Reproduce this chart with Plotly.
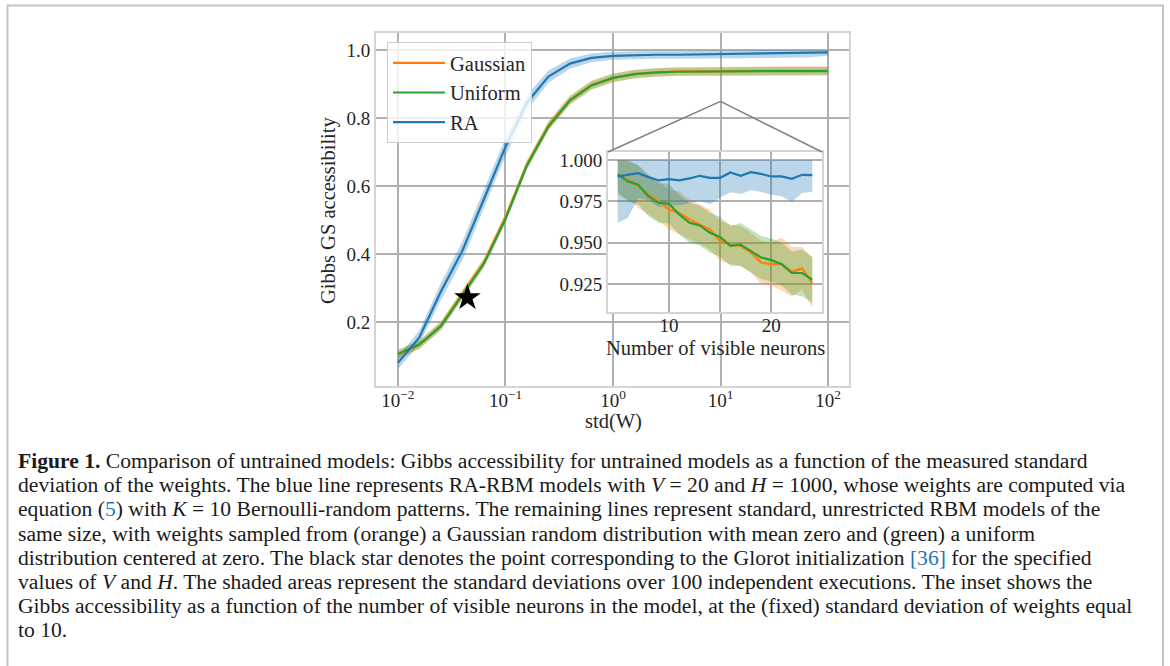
import math
import plotly.graph_objects as go

# ---------------- data ----------------
std_w = [0.01, 0.0158, 0.0251, 0.0398, 0.0631, 0.1, 0.158, 0.251, 0.398, 0.631,
         1.0, 1.58, 2.51, 3.98, 6.31, 10.0, 15.8, 25.1, 39.8, 63.1, 100.0]
ra_mean = [0.080, 0.155, 0.290, 0.410, 0.562, 0.715, 0.845, 0.922, 0.960, 0.977,
           0.983, 0.985, 0.986, 0.986, 0.987, 0.988, 0.988, 0.988, 0.989, 0.990, 0.993]
ra_std = [0.018, 0.020, 0.025, 0.028, 0.028, 0.027, 0.022, 0.018, 0.015, 0.013,
          0.012, 0.012, 0.012, 0.012, 0.012, 0.012, 0.012, 0.012, 0.012, 0.012, 0.010]
gauss_mean = [0.104, 0.133, 0.190, 0.282, 0.376, 0.508, 0.663, 0.778, 0.853, 0.897,
              0.918, 0.929, 0.934, 0.937, 0.937, 0.938, 0.938, 0.939, 0.939, 0.939, 0.939]
gauss_std = [0.014, 0.013, 0.013, 0.013, 0.013, 0.013, 0.013, 0.013, 0.013, 0.013,
             0.013, 0.013, 0.013, 0.013, 0.013, 0.013, 0.013, 0.013, 0.013, 0.013, 0.013]
unif_mean = [0.106, 0.134, 0.188, 0.280, 0.372, 0.503, 0.660, 0.775, 0.852, 0.896,
             0.918, 0.929, 0.934, 0.936, 0.937, 0.938, 0.938, 0.938, 0.938, 0.938, 0.938]
unif_std = [0.012, 0.012, 0.012, 0.012, 0.012, 0.012, 0.012, 0.012, 0.012, 0.012,
            0.012, 0.012, 0.012, 0.012, 0.012, 0.012, 0.012, 0.012, 0.012, 0.012, 0.012]

glorot_x = [0.0443]
glorot_y = [0.272]

neurons = [5, 6, 7, 8, 9, 10, 11, 12, 13, 14, 15, 16, 17, 18, 19, 20, 21, 22, 23, 24]
in_ra_mean = [0.9900, 0.9910, 0.9920, 0.9896, 0.9876, 0.9884, 0.9876, 0.9888, 0.9904, 0.9892,
              0.9892, 0.9924, 0.9904, 0.9926, 0.9916, 0.9900, 0.9900, 0.9886, 0.9910, 0.9908]
in_ra_std = [0.028, 0.026, 0.015, 0.014, 0.016, 0.016, 0.015, 0.015, 0.015, 0.016,
             0.012, 0.012, 0.011, 0.011, 0.011, 0.011, 0.012, 0.014, 0.011, 0.010]
in_gauss_mean = [0.9906, 0.9880, 0.9840, 0.9790, 0.9750, 0.9700, 0.9680, 0.9640, 0.9610, 0.9580,
                 0.9510, 0.9490, 0.9480, 0.9440, 0.9380, 0.9370, 0.9370, 0.9324, 0.9344, 0.9256]
in_gauss_std = [0.012, 0.012, 0.013, 0.012, 0.012, 0.012, 0.013, 0.012, 0.012, 0.012,
                0.012, 0.012, 0.012, 0.012, 0.013, 0.013, 0.016, 0.015, 0.013, 0.015]
in_unif_mean = [0.9914, 0.9870, 0.9850, 0.9780, 0.9740, 0.9736, 0.9670, 0.9620, 0.9604, 0.9560,
                0.9534, 0.9480, 0.9488, 0.9450, 0.9410, 0.9394, 0.9370, 0.9316, 0.9316, 0.9276]
in_unif_std = [0.011, 0.012, 0.012, 0.012, 0.012, 0.012, 0.012, 0.012, 0.012, 0.012,
               0.012, 0.012, 0.013, 0.013, 0.013, 0.013, 0.013, 0.013, 0.014, 0.014]

x_tick_vals = [0.01, 0.1, 1, 10, 100]
x_tick_text = ["10<sup>\u22122</sup>", "10<sup>\u22121</sup>", "10<sup>0</sup>",
               "10<sup>1</sup>", "10<sup>2</sup>"]
y_tick_vals = [0.2, 0.4, 0.6, 0.8, 1.0]
y_tick_text = ["0.2", "0.4", "0.6", "0.8", "1.0"]
in_x_tick_vals = [10, 20]
in_x_tick_text = ["10", "20"]
in_x_minor_vals = [15]
in_y_tick_vals = [0.925, 0.950, 0.975, 1.000]
in_y_tick_text = ["0.925", "0.950", "0.975", "1.000"]

zoom_point = (10, 0.849)

C_GAUSS = "#ff7f0e"
C_UNIF = "#2ca02c"
C_RA = "#1f77b4"
F_GAUSS = "rgba(255,127,14,0.3)"
F_UNIF = "rgba(44,160,44,0.3)"
F_RA = "rgba(31,119,180,0.3)"

W, H = 1170, 666
SERIF = "Liberation Serif, Times New Roman, serif"

# layout geometry (pixels)
main_px = dict(l=376, r=849, t=33, b=386)
inset_px = dict(l=608, r=822, t=152, b=312)


def dom_x(d):
    return [d["l"] / W, d["r"] / W]


def dom_y(d):
    return [1 - d["b"] / H, 1 - d["t"] / H]


main_xr = [-2.204, 2.195]
main_yr = [0.012, 1.05]
in_xr = [4.05, 24.95]
in_yr = [0.908, 1.0048]


def band(xs, m, s):
    up = [min(a + b, 1.0) for a, b in zip(m, s)]
    lo = [a - b for a, b in zip(m, s)]
    return list(xs) + list(xs)[::-1], up + lo[::-1]


fig = go.Figure()

# main bands
for m, s, fc in [(gauss_mean, gauss_std, F_GAUSS), (unif_mean, unif_std, F_UNIF), (ra_mean, ra_std, F_RA)]:
    bx, by = band(std_w, m, s)
    fig.add_trace(go.Scatter(x=bx, y=by, fill="toself", fillcolor=fc, line=dict(width=0),
                             mode="lines", showlegend=False, hoverinfo="skip",
                             xaxis="x", yaxis="y"))
# main lines
for m, c, name in [(gauss_mean, C_GAUSS, "Gaussian"), (unif_mean, C_UNIF, "Uniform"), (ra_mean, C_RA, "RA")]:
    fig.add_trace(go.Scatter(x=std_w, y=m, mode="lines", line=dict(color=c, width=2.2),
                             name=name, legendgroup=name, xaxis="x", yaxis="y"))

fig.add_trace(go.Scatter(x=glorot_x, y=glorot_y, mode="markers",
                         marker=dict(symbol="star", size=20, color="black"),
                         showlegend=False, xaxis="x", yaxis="y"))

# inset bands
for m, s, fc in [(in_gauss_mean, in_gauss_std, F_GAUSS), (in_unif_mean, in_unif_std, F_UNIF), (in_ra_mean, in_ra_std, F_RA)]:
    bx, by = band(neurons, m, s)
    fig.add_trace(go.Scatter(x=bx, y=by, fill="toself", fillcolor=fc, line=dict(width=0),
                             mode="lines", showlegend=False, hoverinfo="skip",
                             xaxis="x2", yaxis="y2"))
for m, c in [(in_gauss_mean, C_GAUSS), (in_unif_mean, C_UNIF), (in_ra_mean, C_RA)]:
    fig.add_trace(go.Scatter(x=neurons, y=m, mode="lines", line=dict(color=c, width=2.2),
                             showlegend=False, xaxis="x2", yaxis="y2"))

GRID = "#b0b0b0"
SPINE = "#d4d4d4"
tickfont = dict(family=SERIF, size=19, color="#262626")

fig.update_layout(
    width=W, height=H,
    margin=dict(l=0, r=0, t=0, b=0),
    paper_bgcolor="white", plot_bgcolor="white",
    xaxis=dict(type="log", domain=dom_x(main_px), range=main_xr, anchor="y",
               tickvals=x_tick_vals, ticktext=x_tick_text, ticks="",
               showgrid=True, gridcolor=GRID, gridwidth=1.6,
               showline=True, linecolor=SPINE, linewidth=2, mirror=True,
               zeroline=False, tickfont=tickfont, automargin=False,
               ticklabelstandoff=-4),
    yaxis=dict(domain=dom_y(main_px), range=main_yr, anchor="x",
               tickvals=y_tick_vals, ticktext=y_tick_text, ticks="",
               showgrid=True, gridcolor=GRID, gridwidth=1.6,
               showline=True, linecolor=SPINE, linewidth=2, mirror=True,
               zeroline=False, tickfont=tickfont, automargin=False),
    xaxis2=dict(domain=dom_x(inset_px), range=in_xr, anchor="y2",
                tickvals=in_x_tick_vals, ticktext=in_x_tick_text, ticks="",
                minor=dict(tickvals=in_x_minor_vals, showgrid=True, gridcolor=GRID, gridwidth=1.6, ticks=""),
                showgrid=True, gridcolor=GRID, gridwidth=1.6,
                showline=True, linecolor=SPINE, linewidth=2, mirror=True,
                zeroline=False, tickfont=tickfont, automargin=False,
                ticklabelstandoff=-5),
    yaxis2=dict(domain=dom_y(inset_px), range=in_yr, anchor="x2",
                tickvals=in_y_tick_vals, ticktext=in_y_tick_text, ticks="",
                showgrid=True, gridcolor=GRID, gridwidth=1.6,
                showline=True, linecolor=SPINE, linewidth=2, mirror=True,
                zeroline=False, tickfont=tickfont, automargin=False),
    showlegend=True,
    legend=dict(x=387 / W, y=1 - 42 / H, xanchor="left", yanchor="top",
                bgcolor="rgba(255,255,255,0.8)", bordercolor="#cccccc", borderwidth=1,
                font=dict(family=SERIF, size=20.5, color="#262626"),
                tracegroupgap=0, itemwidth=52),
    font=dict(family=SERIF),
)

# connectors from zoom point to inset corners
xd, yd = dom_x(main_px), dom_y(main_px)
apx = xd[0] + (math.log10(zoom_point[0]) - main_xr[0]) / (main_xr[1] - main_xr[0]) * (xd[1] - xd[0])
apy = yd[0] + (zoom_point[1] - main_yr[0]) / (main_yr[1] - main_yr[0]) * (yd[1] - yd[0])
ixd, iyd = dom_x(inset_px), dom_y(inset_px)
for cx in ixd:
    fig.add_shape(type="line", xref="paper", yref="paper", x0=apx, y0=apy, x1=cx, y1=iyd[1],
                  line=dict(color="#808080", width=1.5))

# outer page frame
fig.add_shape(type="path", xref="paper", yref="paper",
              path=f"M {7.5 / W},{-0.1} L {7.5 / W},{1 - 5.5 / H} L {1163 / W},{1 - 5.5 / H} L {1163 / W},{-0.1}",
              line=dict(color="#c4c4c4", width=2))

# axis titles
lab = dict(family=SERIF, size=20.5, color="#262626")
fig.add_annotation(x=328 / W, y=1 - 210 / H, xref="paper", yref="paper", text="Gibbs GS accessibility",
                   textangle=-90, showarrow=False, font=lab, xanchor="center", yanchor="middle")
fig.add_annotation(x=613 / W, y=1 - 421 / H, xref="paper", yref="paper", text="std(W)",
                   showarrow=False, font=lab, xanchor="center", yanchor="middle")
fig.add_annotation(x=715 / W, y=1 - 348 / H, xref="paper", yref="paper", text="Number of visible neurons",
                   showarrow=False, font=lab, xanchor="center", yanchor="middle")

# caption
LINK = "#1f75be"
caption_lines = [
    "<b>Figure 1.</b> Comparison of untrained models: Gibbs accessibility for untrained models as a function of the measured standard",
    "deviation of the weights. The blue line represents RA-RBM models with <i>V</i> = 20 and <i>H</i> = 1000, whose weights are computed via",
    f"equation (<span style='color:{LINK}'>5</span>) with <i>K</i> = 10 Bernoulli-random patterns. The remaining lines represent standard, unrestricted RBM models of the",
    "same size, with weights sampled from (orange) a Gaussian random distribution with mean zero and (green) a uniform",
    f"distribution centered at zero. The black star denotes the point corresponding to the Glorot initialization <span style='color:{LINK}'>[36]</span> for the specified",
    "values of <i>V</i> and <i>H</i>. The shaded areas represent the standard deviations over 100 independent executions. The inset shows the",
    "Gibbs accessibility as a function of the number of visible neurons in the model, at the (fixed) standard deviation of weights equal",
    "to 10.",
]
for i, t in enumerate(caption_lines):
    fig.add_annotation(x=16 / W, y=1 - (461 + 24.2 * i) / H, xref="paper", yref="paper", text=t,
                       showarrow=False, xanchor="left", yanchor="middle", align="left",
                       font=dict(family=SERIF, size=21.6, color="#1a1a1a"))

fig.write_html("out.html")
